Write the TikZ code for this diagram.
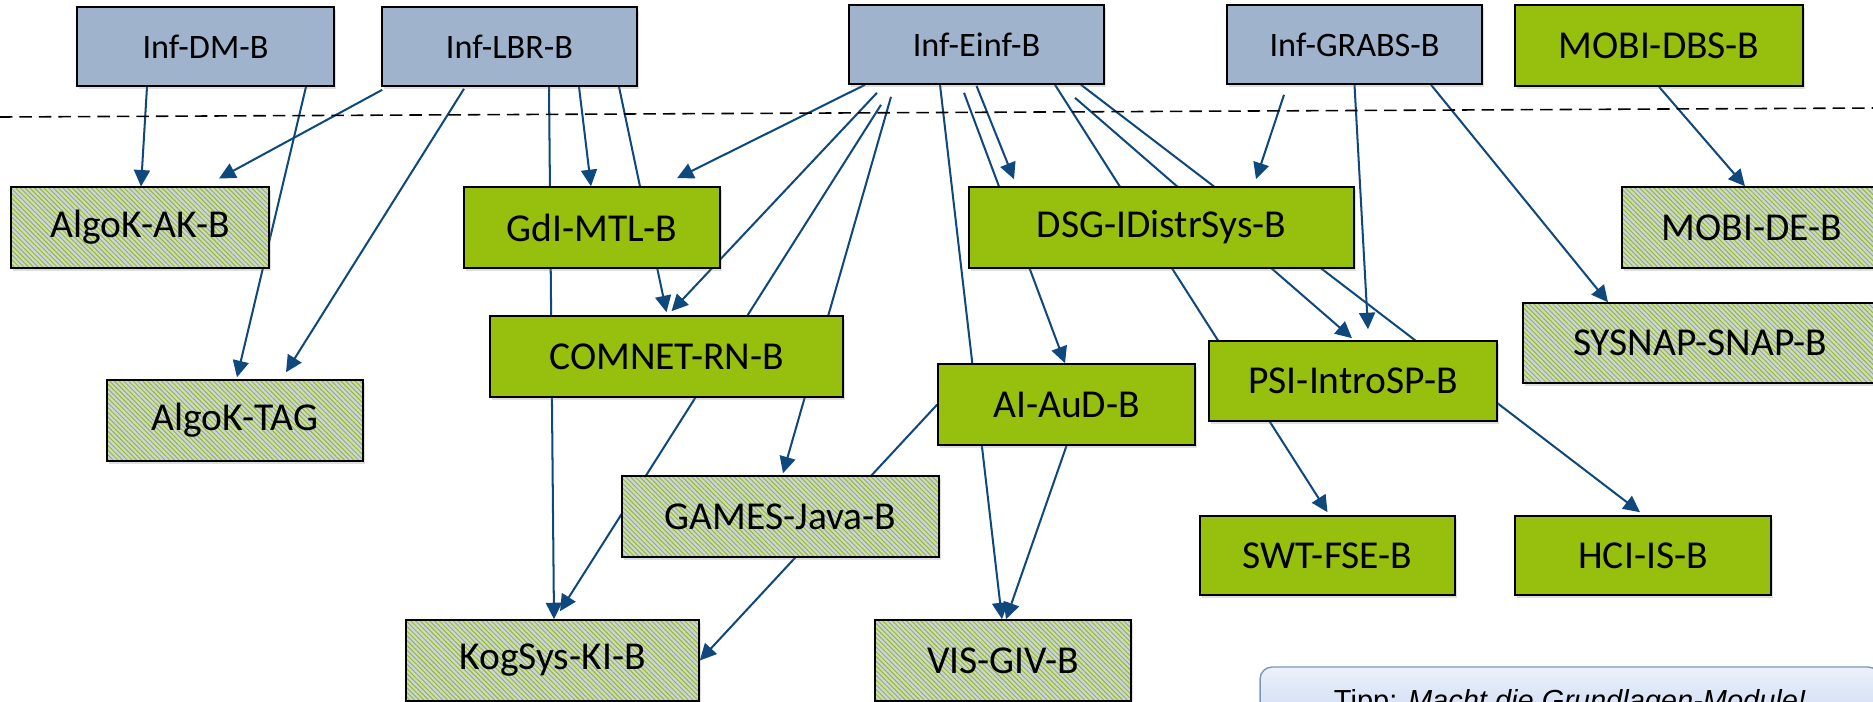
\documentclass[tikz,border=0pt]{standalone}
\usepackage{fontspec}
\setmainfont{Carlito}
\newfontfamily\tippfont{Liberation Sans}
\usetikzlibrary{arrows.meta,patterns.meta,shadows,backgrounds}

\definecolor{basisblue}{RGB}{159,179,205}
\definecolor{modgreen}{RGB}{151,191,13}
\definecolor{hatchgray}{RGB}{203,211,229}
\definecolor{arrblue}{RGB}{15,72,125}
\definecolor{tippedge}{RGB}{125,150,190}
\definecolor{tipptop}{RGB}{236,241,251}
\definecolor{tippbottom}{RGB}{196,212,240}

\begin{document}
\begin{tikzpicture}[x=0.02cm,y=-0.02cm,
	box/.style={shape=rectangle,draw=black,line width=0.9pt,inner sep=0pt,minimum height=1.62cm,
		drop shadow={shadow xshift=1.2pt,shadow yshift=-1.5pt,opacity=0.25},
		font=\fontsize{22.5}{27}\selectfont},
	basis/.style={box,fill=basisblue,minimum height=1.58cm,font=\fontsize{19.5}{23}\selectfont},
	pflicht/.style={box,fill=modgreen},
	wahl/.style={box,preaction={fill=hatchgray},
		pattern={Lines[angle=-45,distance=1.9pt,line width=0.55pt]},pattern color=modgreen},
	arr/.style={-{Triangle[length=0.33cm,width=0.32cm]},draw=arrblue,line width=1.15pt},
	sepline/.style={draw=black,line width=0.9pt,dash pattern=on 0.25cm off 0.14cm}
	]
	
	\path[use as bounding box,clip] (0,0) rectangle (1873,701);
	
	\draw[sepline] (0,117) -- (1873,108);
	
	\node[basis,minimum width=5.14cm]   (dm)      at (205.5,46.5)  {Inf-DM-B};
	\node[basis,minimum width=5.10cm]   (lbr)     at (509.5,46.5)  {Inf-LBR-B};
	\node[basis,minimum width=5.10cm]   (einf)    at (976.5,44.5)  {Inf-Einf-B};
	\node[basis,minimum width=5.10cm]   (grabs)   at (1354.5,44.5) {Inf-GRABS-B};
	\node[pflicht,minimum width=5.76cm] (mobidbs) at (1659,45.5)   {MOBI-DBS-B};
	
	\node[wahl,minimum width=5.16cm]    (algoak)  at (140,227.5)   {AlgoK-AK-B};
	\node[pflicht,minimum width=5.12cm] (gdi)     at (592,227.5)   {GdI-MTL-B};
	\node[pflicht,minimum width=7.70cm] (dsg)     at (1161.5,227.5) {DSG-IDistrSys-B};
	\node[wahl,minimum width=5.20cm]    (mobide)  at (1752,227.5)  {MOBI-DE-B};
	
	\node[pflicht,minimum width=7.06cm] (comnet)  at (666.5,356.5) {COMNET-RN-B};
	\node[wahl,minimum width=7.08cm,minimum height=1.60cm] (sysnap) at (1700,343) {SYSNAP-SNAP-B};
	\node[wahl,minimum width=5.12cm]    (algotag) at (235,420.5)   {AlgoK-TAG};
	\node[pflicht,minimum width=5.14cm] (aiaud)   at (1066.5,404.5) {AI-AuD-B};
	\node[pflicht,minimum width=5.76cm,minimum height=1.60cm] (psi) at (1353,381) {PSI-IntroSP-B};
	
	\node[wahl,minimum width=6.34cm]    (games)   at (780.5,516.5) {GAMES-Java-B};
	\node[pflicht,minimum width=5.10cm,minimum height=1.58cm] (swt) at (1327.5,555.5) {SWT-FSE-B};
	\node[pflicht,minimum width=5.12cm,minimum height=1.58cm] (hci) at (1643,555.5)   {HCI-IS-B};
	
	\node[wahl,minimum width=5.86cm]    (kogsys)  at (552.5,660.5) {KogSys-KI-B};
	\node[wahl,minimum width=5.12cm]    (vis)     at (1003,660.5)  {VIS-GIV-B};
	
	\node[shape=rectangle,rounded corners=0.24cm,draw=tippedge,line width=0.8pt,
		top color=tipptop,bottom color=tippbottom,inner sep=0pt,
		minimum width=12.4cm,minimum height=1.44cm,
		font=\tippfont\fontsize{16.5}{20}\selectfont] (tipp) at (1570,703)
		{Tipp: \textit{Macht die Grundlagen-Module!}};
	
	\begin{pgfonlayer}{background}
	\draw[arr] ([shift={(-58.5,0)}]dm.south)    -- ([shift={(1,0)}]algoak.north);
	\draw[arr] ([shift={(100.5,0)}]dm.south)    -- ([shift={(2,-2)}]algotag.north);
	\draw[arr] ([shift={(1,3)}]lbr.south west)  -- ([shift={(79,-8)}]algoak.north);
	\draw[arr] ([shift={(-45.5,2)}]lbr.south)   -- ([shift={(51,-7)}]algotag.north);
	\draw[arr] ([shift={(39.5,0)}]lbr.south)    -- ([shift={(1.5,0)}]kogsys.north);
	\draw[arr] ([shift={(69.5,0)}]lbr.south)    -- ([shift={(-1,0)}]gdi.north);
	\draw[arr] ([shift={(109.5,0)}]lbr.south)   -- ([shift={(0,-3)}]comnet.north);
	
	\draw[arr] ([shift={(-111.5,0)}]einf.south) -- ([shift={(85,-8)}]gdi.north);
	\draw[arr] ([shift={(-99.5,8)}]einf.south)  -- ([shift={(5,-4)}]comnet.north);
	\draw[arr] ([shift={(-95.5,20)}]einf.south) -- ([shift={(7.5,-8)}]kogsys.north);
	\draw[arr] ([shift={(-85.5,12)}]einf.south) -- ([shift={(2.5,-2)}]games.north);
	\draw[arr] ([shift={(-36.5,0)}]einf.south)  -- ([shift={(-1,0)}]vis.north);
	\draw[arr] ([shift={(-12.5,8)}]einf.south)  -- ([shift={(-1.5,0)}]aiaud.north);
	\draw[arr] ([shift={(0,1)}]einf.south)      -- ([shift={(-147.5,-7)}]dsg.north);
	\draw[arr] ([shift={(78.5,0)}]einf.south)   -- ([shift={(0,-3)}]swt.north);
	\draw[arr] ([shift={(98.5,13)}]einf.south)  -- ([shift={(-1,-2)}]psi.north);
	\draw[arr] ([shift={(104.5,0)}]einf.south)  -- ([shift={(-3,-3)}]hci.north);
	
	\draw[arr] ([shift={(-70.5,10)}]grabs.south) -- ([shift={(94.5,-7)}]dsg.north);
	\draw[arr] (grabs.south)                     -- ([shift={(15,-11)}]psi.north);
	\draw[arr] ([shift={(76.5,0)}]grabs.south)   -- ([shift={(-92,0)}]sysnap.north);
	\draw[arr] (mobidbs.south)                   -- ([shift={(-7,0)}]mobide.north);
	
	\draw[arr] (aiaud.west)  -- (kogsys.east);
	\draw[arr] (aiaud.south) -- ([shift={(3,0)}]vis.north);
	\end{pgfonlayer}
	
\end{tikzpicture}
\end{document}
